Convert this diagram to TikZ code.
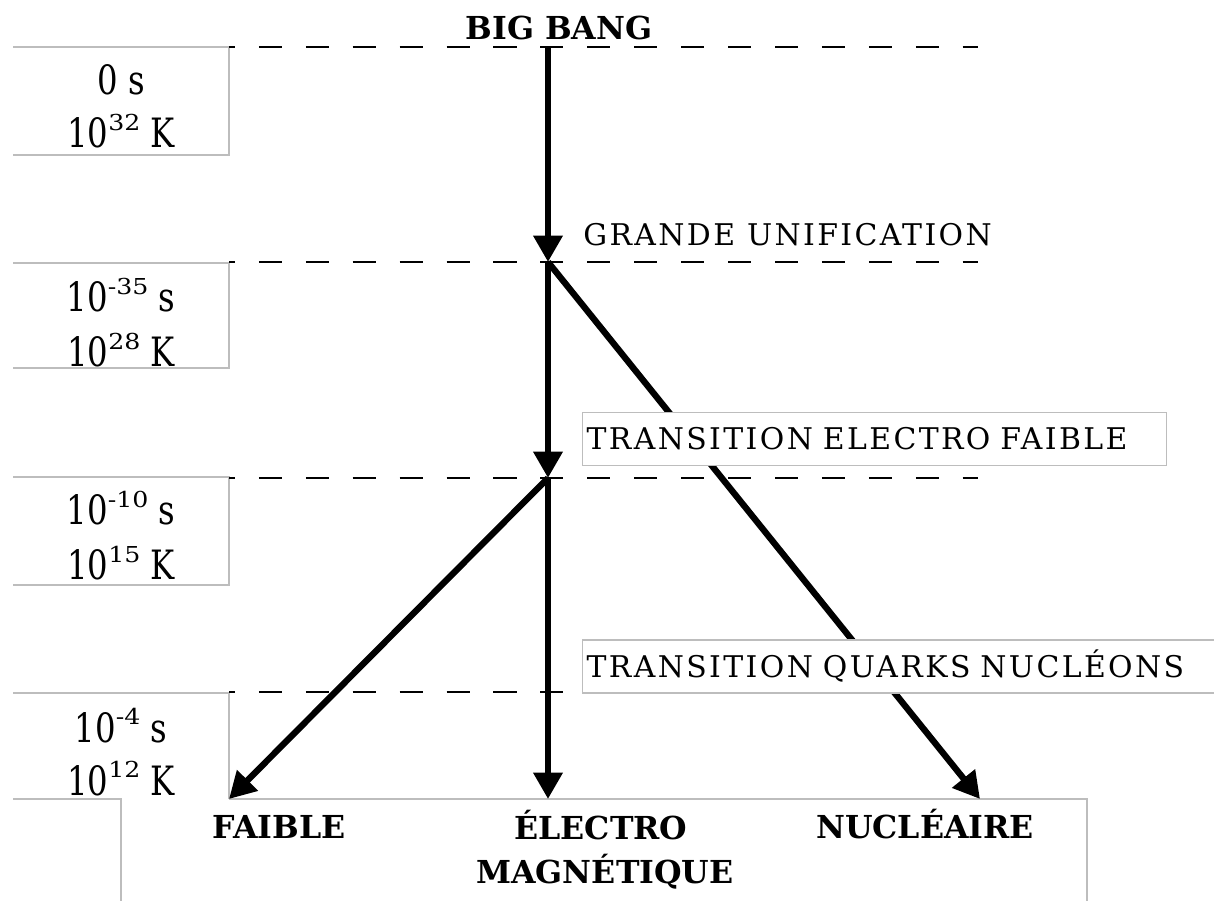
\documentclass[tikz,border=0pt]{standalone}
\usepackage{fontspec}
\setmainfont{DejaVu Serif}
\newfontfamily\numfont[FakeStretch=0.8]{DejaVu Serif}
\newfontfamily\expfont[FakeStretch=1.15]{DejaVu Serif}
\newfontfamily\capsfont[LetterSpace=8]{DejaVu Serif}
\usetikzlibrary{arrows.meta,positioning}
\definecolor{frame}{HTML}{BDBDBD}
\newcommand{\expo}[1]{\raisebox{10pt}{\expfont\fontsize{12.5}{12.5}\selectfont #1}}

\begin{document}
\begin{tikzpicture}[x=0.2mm,y=-0.2mm,
  era/.style={font=\numfont\fontsize{23}{23}\selectfont,anchor=base,inner sep=0pt},
  stage/.style={font=\capsfont\fontsize{17}{17}\selectfont,anchor=base west,inner sep=0pt},
  stagebox/.style={draw=frame,fill=white,line width=0.8pt,font=\capsfont\fontsize{17}{17}\selectfont,
    anchor=west,align=left,inner xsep=0.8mm,inner ysep=0pt,minimum height=10.6mm,
    text height=12.4pt,text depth=0pt},
  force/.style={font=\bfseries\fontsize{18}{18}\selectfont,anchor=base,inner sep=0pt},
  border/.style={draw=frame,line width=0.8pt},
  level/.style={line width=1.3pt,dash pattern=on 13.1pt off 13.6pt,dash phase=9.7pt},
  flow/.style={line width=3.6pt,-{Triangle[length=15pt,width=16pt]}}
]
\useasboundingbox (0,0) rectangle (1214,901);

% time and temperature boxes
\draw[border] (13,47) -| (229,155) -- (13,155);
\draw[border] (13,263) -| (229,368) -- (13,368);
\draw[border] (13,477) -| (229,585) -- (13,585);
\draw[border] (13,693) -| (229,799);
\draw[border] (13,799) -- (121,799) -- (121,901);
\draw[border] (229,799) -- (1087,799) -- (1087,901);

\node[era] (t0s) at (121,95) {0 s};
\node[era] (t0k) at (121,148) {10\expo{32} K};
\node[era] (t1s) at (121,312) {10\expo{-35} s};
\node[era] (t1k) at (121,367) {10\expo{28} K};
\node[era] (t2s) at (121,525) {10\expo{-10} s};
\node[era] (t2k) at (121,580) {10\expo{15} K};
\node[era] (t3s) at (121,742) {10\expo{-4} s};
\node[era] (t3k) at (121,795) {10\expo{12} K};

% levels
\foreach \y in {47,262,478,692}
  \draw[level] (229,\y) -- (978,\y);

% forces
\coordinate (bang) at (548,47);
\coordinate (gut) at (548,262);
\coordinate (ewk) at (548,478);
\coordinate (weak) at (229,799);
\coordinate (em) at (548,799);
\coordinate (strong) at (980,799);

\draw[flow] (bang) -- (gut);
\draw[flow] (gut) -- (ewk);
\draw[flow] (ewk) -- (em);
\draw[flow] (gut) -- (strong);
\draw[flow] (ewk) -- (weak);

\node[force] (bigbang) at (559,40) {BIG BANG};
\node[stage] (unif) at (583,246) {GRANDE UNIFICATION};
\node[stagebox,text width=115.2mm] (ewbox) at (582,439) {TRANSITION ELECTRO FAIBLE};
\node[stagebox,text width=128mm] (qnbox) at (582,666.5) {TRANSITION QUARKS NUCLÉONS};

\node[force] (faible) at (279,838) {FAIBLE};
\node[force] (elec) at (601,839) {ÉLECTRO};
\node[force] (magn) at (605,883) {MAGNÉTIQUE};
\node[force] (nucl) at (925,838) {NUCLÉAIRE};
\end{tikzpicture}
\end{document}
